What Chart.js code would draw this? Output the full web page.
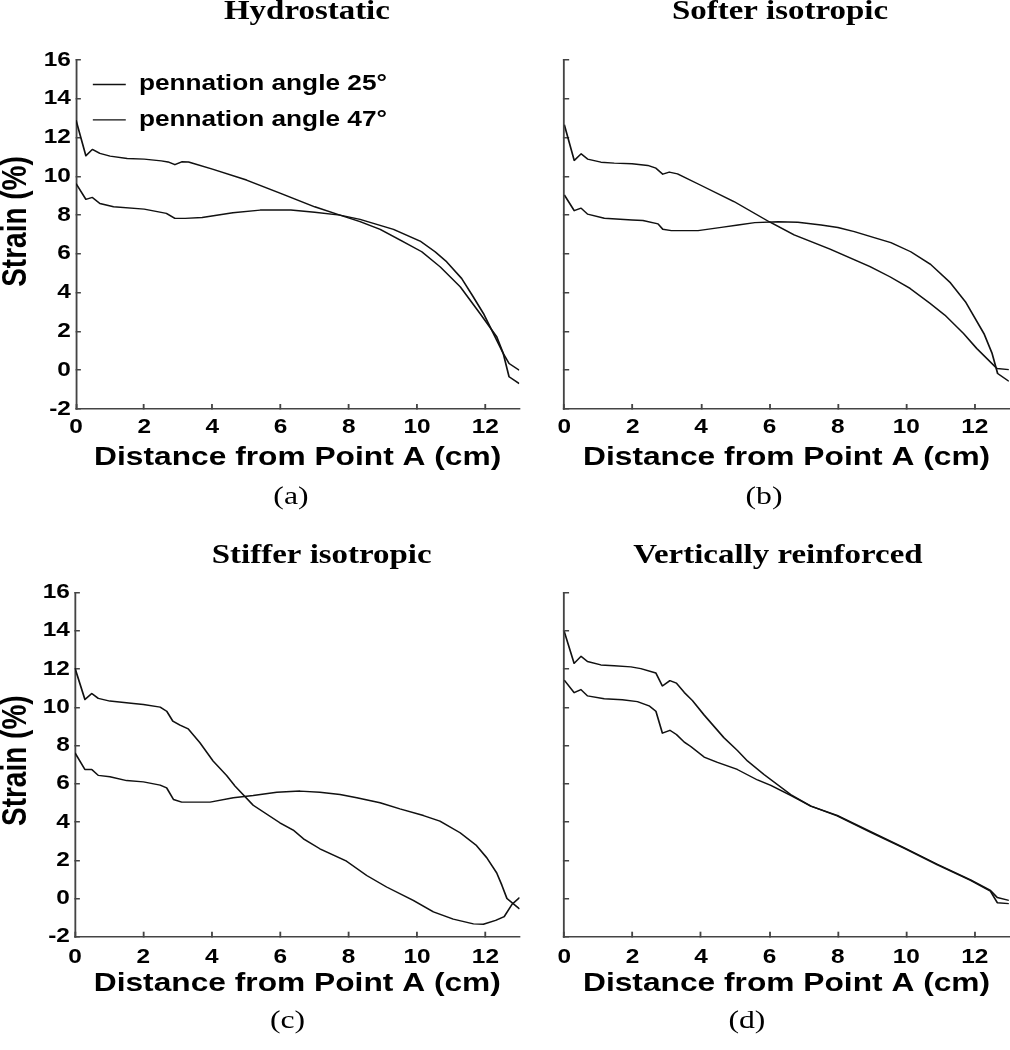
<!DOCTYPE html>
<html>
<head>
<meta charset="utf-8">
<script src="https://cdn.jsdelivr.net/npm/chart.js@4.4.1/dist/chart.umd.min.js"></script>
<style>
html, body { margin: 0; padding: 0; background: #fff; }
#wrap { position: relative; width: 1010px; height: 1050px; overflow: hidden; background: #fff; }
#wrap canvas { position: absolute; }
</style>
</head>
<body>
<div id="wrap">
  <canvas id="pa" width="530" height="525" style="left:0px;top:0px"></canvas>
  <canvas id="pb" width="491" height="525" style="left:519px;top:0px"></canvas>
  <canvas id="pc" width="530" height="525" style="left:0px;top:525px"></canvas>
  <canvas id="pd" width="491" height="525" style="left:519px;top:525px"></canvas>
</div>
<script>
// ---------------- data ----------------
const seriesNames = ['pennation angle 25\u00B0', 'pennation angle 47\u00B0'];
const panelTitles = ['Hydrostatic', 'Softer isotropic', 'Stiffer isotropic', 'Vertically reinforced'];
const panelLabels = ['(a)', '(b)', '(c)', '(d)'];
const xAxisTitle = 'Distance from Point A (cm)';
const yAxisTitle = 'Strain (%)';
const xTickValues = [0, 2, 4, 6, 8, 10, 12];
const yTickValues = [-2, 0, 2, 4, 6, 8, 10, 12, 14, 16];

// (a) Hydrostatic
const aX25 = [0, 0.29, 0.48, 0.7, 1.0, 1.5, 2.0, 2.5, 2.7, 2.9, 3.1, 3.3, 4.0, 5.0, 6.0, 7.0, 7.74, 8.33, 8.92, 9.51, 10.14, 10.68, 11.27, 11.85, 12.34, 12.53, 12.7, 13.0];
const aY25 = [12.9, 11.06, 11.39, 11.18, 11.04, 10.92, 10.89, 10.8, 10.74, 10.6, 10.75, 10.74, 10.37, 9.81, 9.12, 8.43, 8.0, 7.66, 7.26, 6.71, 6.11, 5.33, 4.3, 2.92, 1.72, 0.86, 0.35, 0.0];
const aX47 = [0, 0.29, 0.48, 0.7, 1.1, 2.0, 2.65, 2.9, 3.2, 3.7, 4.6, 5.4, 6.3, 7.0, 7.74, 8.33, 9.31, 10.09, 10.53, 10.87, 11.31, 11.65, 11.95, 12.24, 12.53, 12.7, 13.0];
const aY47 = [9.63, 8.81, 8.91, 8.6, 8.43, 8.31, 8.09, 7.83, 7.83, 7.88, 8.12, 8.26, 8.26, 8.15, 8.0, 7.78, 7.26, 6.66, 6.11, 5.59, 4.73, 3.78, 2.92, 1.89, 0.86, -0.34, -0.69];

// (b) Softer isotropic
const bX25 = [0, 0.29, 0.49, 0.68, 1.07, 1.46, 1.98, 2.44, 2.68, 2.88, 3.07, 3.31, 3.99, 4.96, 5.99, 6.72, 7.77, 8.94, 9.52, 10.11, 10.69, 11.13, 11.67, 12.06, 12.65, 13.0];
const bY25 = [12.66, 10.82, 11.16, 10.89, 10.73, 10.68, 10.65, 10.56, 10.42, 10.11, 10.22, 10.13, 9.54, 8.7, 7.66, 6.98, 6.24, 5.34, 4.82, 4.22, 3.45, 2.84, 1.9, 1.12, 0.09, 0.03];
const bX47 = [0, 0.29, 0.49, 0.68, 1.17, 1.98, 2.3, 2.74, 2.88, 3.13, 3.91, 4.59, 5.08, 5.57, 6.25, 6.83, 7.51, 8.0, 8.48, 9.06, 9.55, 10.13, 10.71, 11.29, 11.73, 12.27, 12.51, 12.67, 13.0];
const bY47 = [9.04, 8.23, 8.36, 8.05, 7.84, 7.75, 7.72, 7.55, 7.27, 7.2, 7.2, 7.37, 7.49, 7.61, 7.66, 7.63, 7.49, 7.36, 7.15, 6.84, 6.58, 6.11, 5.46, 4.51, 3.53, 1.89, 0.86, -0.17, -0.57];

// (c) Stiffer isotropic
const cX25 = [0, 0.29, 0.49, 0.68, 1.02, 1.71, 2.0, 2.49, 2.68, 2.86, 3.07, 3.31, 3.65, 4.04, 4.43, 4.68, 5.21, 5.99, 6.38, 6.68, 7.16, 7.94, 8.53, 9.11, 9.89, 10.48, 11.06, 11.65, 11.94, 12.3, 12.55, 12.78, 13.0];
const cY25 = [12.05, 10.41, 10.73, 10.47, 10.33, 10.2, 10.15, 10.01, 9.8, 9.28, 9.07, 8.88, 8.15, 7.19, 6.44, 5.88, 4.88, 3.96, 3.58, 3.12, 2.6, 1.95, 1.2, 0.6, -0.1, -0.7, -1.08, -1.33, -1.35, -1.15, -0.95, -0.3, 0.05];
const cX47 = [0, 0.29, 0.49, 0.68, 1.02, 1.51, 2.0, 2.49, 2.68, 2.88, 3.12, 3.95, 4.63, 5.21, 5.9, 6.58, 7.16, 7.75, 8.24, 8.92, 9.5, 10.19, 10.67, 11.26, 11.74, 12.04, 12.33, 12.48, 12.63, 13.0];
const cY47 = [7.62, 6.75, 6.75, 6.44, 6.37, 6.17, 6.1, 5.93, 5.79, 5.18, 5.04, 5.04, 5.27, 5.39, 5.56, 5.62, 5.56, 5.44, 5.27, 5.01, 4.69, 4.34, 4.05, 3.44, 2.77, 2.13, 1.34, 0.7, 0.0, -0.55];

// (d) Vertically reinforced
const dX25 = [0, 0.29, 0.49, 0.68, 1.07, 1.46, 1.95, 2.24, 2.68, 2.87, 3.09, 3.28, 3.51, 3.75, 4.09, 4.67, 5.06, 5.36, 5.84, 6.62, 7.21, 7.98, 8.96, 9.93, 10.91, 11.88, 12.46, 12.66, 13.0];
const dY25 = [13.98, 12.3, 12.67, 12.4, 12.22, 12.18, 12.12, 12.03, 11.8, 11.12, 11.4, 11.27, 10.78, 10.35, 9.6, 8.41, 7.75, 7.19, 6.49, 5.44, 4.83, 4.32, 3.46, 2.63, 1.76, 0.95, 0.38, -0.22, -0.27];
const dX47 = [0, 0.29, 0.49, 0.68, 1.17, 1.7, 2.14, 2.48, 2.68, 2.87, 3.09, 3.28, 3.51, 3.7, 4.09, 4.48, 5.06, 5.65, 6.04, 6.62, 7.21, 7.98, 8.96, 9.93, 10.91, 11.88, 12.46, 12.66, 13.0];
const dY47 = [11.43, 10.77, 10.93, 10.6, 10.45, 10.4, 10.3, 10.08, 9.8, 8.65, 8.8, 8.58, 8.18, 7.95, 7.4, 7.12, 6.75, 6.2, 5.92, 5.39, 4.83, 4.35, 3.5, 2.66, 1.79, 0.97, 0.42, 0.05, -0.1];

// ---------------- styling / layout ----------------
const SX = 1.22; // horizontal stretch of the original figure
const SANS = "'Liberation Sans', Arial, sans-serif";
const SERIF = "'Liberation Serif', 'Times New Roman', serif";
const AXIS_COLOR = '#444';
const LINE_COLOR = '#111';

const stretchPlugin = {
  id: 'stretchX',
  beforeDraw(c) { c.ctx.save(); c.ctx.setTransform(SX, 0, 0, 1, 0, 0); },
  afterDraw(c) { c.ctx.restore(); }
};

function placementPlugin(titleText, titleDx, subText, subDx, yTitleDy) {
  return {
    id: 'placement',
    afterLayout(c) {
      c.boxes.forEach(b => {
        if (!b.options || b.options.text === undefined) return;
        if (b.options.text === titleText && b.options.position === 'top') { b.left += titleDx; b.right += titleDx; }
        if (b.options.text === subText && b.options.position === 'bottom') { b.left += subDx; b.right += subDx; }
      });
      // legend placed inside the plot area, at its top-left corner
      if (c.legend && c.legend.options.display) {
        const dy = c.chartArea.top - c.legend.top;
        c.legend.top += dy; c.legend.bottom += dy;
      }
      // vertical offset of the y-axis title
      const ys = c.scales.y;
      if (ys && !ys._titlePatched) {
        ys._titlePatched = true;
        const orig = ys.drawTitle;
        ys.drawTitle = function () {
          this.top += yTitleDy; this.bottom += yTitleDy;
          orig.call(this);
          this.top -= yTitleDy; this.bottom -= yTitleDy;
        };
      }
    }
  };
}

const pts = (xs, ys) => xs.map((x, i) => ({ x: x, y: ys[i] }));

function makePanel(id, o) {
  const ds = (label, data) => ({
    label: label, data: data, borderColor: LINE_COLOR, backgroundColor: LINE_COLOR,
    borderWidth: 1.4, pointRadius: 0, pointHoverRadius: 0, fill: false, tension: 0,
    borderJoinStyle: 'round'
  });
  return new Chart(document.getElementById(id), {
    type: 'line',
    data: { datasets: [ds(seriesNames[0], pts(o.x25, o.y25)), ds(seriesNames[1], pts(o.x47, o.y47))] },
    options: {
      responsive: false, animation: false, devicePixelRatio: 1, events: [],
      layout: { padding: { left: 0, top: 0, right: o.padR, bottom: o.padB } },
      plugins: {
        tooltip: { enabled: false },
        legend: o.legend ? {
          display: true, position: 'chartArea', align: 'start',
          labels: {
            usePointStyle: true, pointStyle: 'line', pointStyleWidth: 27, boxHeight: 21.5,
            padding: 13.8, color: '#000',
            font: { family: SANS, size: 21.5, weight: 'bold' }
          }
        } : { display: false },
        title: {
          display: true, text: o.title, fullSize: false, color: '#000',
          font: { family: SERIF, size: 27, weight: 'bold', lineHeight: 1 },
          padding: { top: o.tPadTop, bottom: o.tPadBot }
        },
        subtitle: {
          display: true, text: o.sub, position: 'bottom', fullSize: false, color: '#000',
          font: { family: SERIF, size: 26, weight: 'normal', lineHeight: 1 },
          padding: { top: o.sPadTop, bottom: 0 }
        }
      },
      scales: {
        x: {
          type: 'linear', min: 0, max: 13,
          afterBuildTicks: s => { s.ticks = xTickValues.map(v => ({ value: v })); },
          afterFit: s => { s.height = 66; },
          ticks: { color: '#000', autoSkip: false, maxRotation: 0, padding: o.xTickPad,
                   font: { family: SANS, size: 20, weight: 'bold', lineHeight: 1.2 } },
          grid: { drawOnChartArea: false, drawTicks: true, tickLength: -5, color: AXIS_COLOR, lineWidth: 1.5 },
          border: { display: true, color: AXIS_COLOR, width: 1.5 },
          title: { display: true, text: xAxisTitle, color: '#000',
                   font: { family: SANS, size: 26, weight: 'bold', lineHeight: 1 },
                   padding: { top: 0, bottom: o.xTitlePad } }
        },
        y: {
          type: 'linear', min: -2, max: 16,
          afterBuildTicks: s => { s.ticks = yTickValues.map(v => ({ value: v })); },
          afterFit: s => { s.width = o.yW; },
          ticks: { display: o.yLabels, color: '#000', padding: 8.2,
                   font: { family: SANS, size: 20, weight: 'bold', lineHeight: 1.2 } },
          grid: { drawOnChartArea: false, drawTicks: true, tickLength: -4, color: AXIS_COLOR, lineWidth: 1.5 },
          border: { display: true, color: AXIS_COLOR, width: 1.5 },
          title: { display: o.yLabels, text: yAxisTitle, color: '#000',
                   font: { family: SANS, size: 28, weight: 'bold', lineHeight: 1 },
                   padding: { top: 0, bottom: 0 } }
        }
      }
    },
    plugins: [stretchPlugin, placementPlugin(o.title, o.tShift, o.sub, o.sShift, o.yTitleDy)]
  });
}

makePanel('pa', { title: panelTitles[0], sub: panelLabels[0], x25: aX25, y25: aY25, x47: aX47, y47: aY47,
  legend: true, yLabels: true, yW: 62.30, padR: 104.34, padB: 15, tPadTop: -1, tPadBot: 34, sPadTop: 9,
  xTickPad: 11.8, xTitlePad: 4, tShift: 7.6, sShift: -5.5, yTitleDy: -13 });
makePanel('pb', { title: panelTitles[1], sub: panelLabels[1], x25: bX25, y25: bY25, x47: bX47, y47: bY47,
  legend: false, yLabels: false, yW: 37.13, padR: 89.44, padB: 15, tPadTop: -1, tPadBot: 34, sPadTop: 9,
  xTickPad: 11.8, xTitlePad: 4, tShift: -5.4, sShift: -18.5, yTitleDy: 0 });
makePanel('pc', { title: panelTitles[2], sub: panelLabels[2], x25: cX25, y25: cY25, x47: cX47, y47: cY47,
  legend: false, yLabels: true, yW: 61.48, padR: 104.1, padB: 16.3, tPadTop: 17.4, tPadBot: 23.3, sPadTop: 5,
  xTickPad: 13.5, xTitlePad: 5.4, tShift: 20, sShift: -8, yTitleDy: -4 });
makePanel('pd', { title: panelTitles[3], sub: panelLabels[3], x25: dX25, y25: dY25, x47: dX47, y47: dY47,
  legend: false, yLabels: false, yW: 37.05, padR: 89.44, padB: 16.3, tPadTop: 17.4, tPadBot: 23.3, sPadTop: 5,
  xTickPad: 13.5, xTitlePad: 5.4, tShift: -7.1, sShift: -32.5, yTitleDy: 0 });
</script>
</body>
</html>
